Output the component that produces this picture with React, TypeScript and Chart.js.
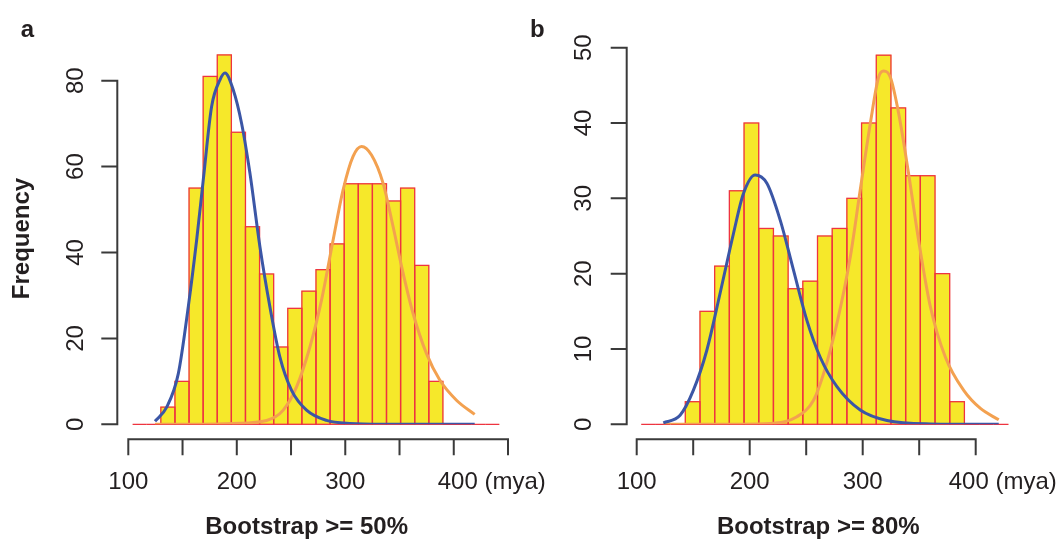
import React, { useEffect, useRef } from "react";
import { Chart, registerables } from "chart.js";
Chart.register(...registerables);

// ---------- data ----------
const binWidth = 13; // mya per histogram bin
const binStartA = 104;
const countsA = [0, 0, 4, 10, 55, 81, 86, 68, 46, 35, 18, 27, 31, 36, 42, 56, 56, 56, 52, 55, 37, 10, 0, 0, 0, 0];
const binStartB = 104;
const countsB = [0, 0, 0, 3, 15, 21, 31, 40, 26, 25, 18, 19, 25, 26, 30, 40, 49, 42, 33, 33, 20, 3, 0, 0, 0];

// fitted curves: [mya, frequency]
const blueCurveA: [number, number][] = [
  [124.6, 0.7], [135.4, 4.0], [146.1, 11.8], [155.3, 27.4], [163, 42.9], [169.1, 56.9], [176.8, 74],
  [184.5, 80.2], [189.1, 81.8], [196.7, 77.9], [204.4, 70.1], [212.1, 58.5], [221.3, 41.4], [230.5, 27.4],
  [239.7, 15.7], [250.5, 7.9], [264.3, 3.3], [282.7, 0.9], [304.2, 0.2], [340, 0.02], [380, 0], [419.3, 0],
];
const orangeCurveA: [number, number][] = [
  [124.6, 0], [170, 0.02], [196.7, 0.2], [227.5, 0.9], [242.8, 3.3], [255.1, 8.7], [267.4, 18], [278.1, 28.9],
  [288.8, 42.9], [298, 54.6], [307.2, 62.4], [315, 64.7], [324.2, 62.7], [334.9, 56.1], [344.1, 46],
  [353.3, 35.2], [362.5, 25.8], [374.8, 16.5], [387.1, 10.3], [402.5, 5.6], [419.3, 2.3],
];
const blueCurveB: [number, number][] = [
  [123.6, 0.2], [138.4, 1.2], [150.1, 4.5], [162, 9.8], [173.8, 17.4], [185.6, 25.3], [194.4, 30.6],
  [204.8, 33.1], [215.2, 32], [227, 27.1], [238.7, 20.5], [250.6, 13.8], [262.4, 8.9], [277.2, 5],
  [297.8, 1.9], [321.5, 0.5], [360, 0.05], [420.4, 0],
];
const orangeCurveB: [number, number][] = [
  [123.6, 0], [190, 0.02], [218.1, 0.1], [241.8, 1], [256.5, 3.2], [265.3, 6.7], [277.2, 13.4], [289, 22.2],
  [297.8, 31.1], [306.7, 39.9], [314.1, 46.1], [318.5, 46.9], [324.4, 46.1], [331.8, 41.3], [340.6, 33.3],
  [349.5, 24.4], [359.9, 15.6], [373.2, 8.9], [389.4, 4.5], [404.2, 2.1], [420.4, 0.6],
];

const xTicksA = [100, 150, 200, 250, 300, 350, 400, 450];
const xTicksB = [100, 150, 200, 250, 300, 350, 400];
const xLabelValues = [100, 200, 300];
const xLastLabelValue = 400;
const xLastLabel = "400 (mya)";
const yTicksA = [0, 20, 40, 60, 80];
const yTicksB = [0, 10, 20, 30, 40, 50];
const titleA = "Bootstrap >= 50%";
const titleB = "Bootstrap >= 80%";
const yTitle = "Frequency";

// ---------- styles ----------
const FONT = '"Liberation Sans", Arial, Helvetica, sans-serif';
const TEXT = "#231f20";
const AXIS = "#3a3a3a";
const YELLOW = "#f6e82a";
const RED = "#ee3440";
const BLUE = "#3b56a6";
const ORANGE = "#f3a150";
const TICK = 15;

type Panel = {
  counts: number[];
  binStart: number;
  blue: [number, number][];
  orange: [number, number][];
  xTicks: number[];
  yTicks: number[];
  xMin: number; xMax: number; yMax: number;
  padding: { left: number; right: number; top: number; bottom: number };
  yAxisGap: number;
  yLabelOffset: number;
  lastLabelShift: number;
  title: string;
  titleAt: number;
  letter: string;
  letterX: number;
  showYTitle: boolean;
};

const panelA: Panel = {
  counts: countsA, binStart: binStartA, blue: blueCurveA, orange: orangeCurveA,
  xTicks: xTicksA, yTicks: yTicksA, xMin: 100, xMax: 450, yMax: 90,
  padding: { left: 128.3, right: 553, top: 37.75, bottom: 114.7 },
  yAxisGap: 11, yLabelOffset: 34, lastLabelShift: -16,
  title: titleA, titleAt: 264.4, letter: "a", letterX: 20.7, showYTitle: true,
};
const panelB: Panel = {
  counts: countsB, binStart: binStartB, blue: blueCurveB, orange: orangeCurveB,
  xTicks: xTicksB, yTicks: yTicksB, xMin: 100, xMax: 440, yMax: 55,
  padding: { left: 636.7, right: 40.1, top: 10, bottom: 114.7 },
  yAxisGap: 10, yLabelOffset: 36, lastLabelShift: -27,
  title: titleB, titleAt: 260.7, letter: "b", letterX: 530, showYTitle: false,
};

const outlinePlugin = {
  id: "barOutline",
  afterDatasetDraw(chart: any, args: any) {
    const meta = args.meta;
    if (meta.type !== "bar") return;
    const ctx = chart.ctx;
    ctx.save();
    ctx.strokeStyle = RED;
    ctx.lineWidth = 1.3;
    meta.data.forEach((el: any) => {
      const { x, y, base, width } = el.getProps(["x", "y", "base", "width"], true);
      ctx.strokeRect(x - width / 2, Math.min(y, base), width, Math.abs(base - y));
    });
    ctx.restore();
  },
};

function axesPlugin(p: Panel) {
  return {
    id: "rAxes",
    afterDraw(chart: any) {
      const ctx = chart.ctx;
      const xs = chart.scales.x;
      const ys = chart.scales.y;
      const y0 = ys.getPixelForValue(0);
      const axX = xs.getPixelForValue(p.xTicks[0]) - p.yAxisGap;
      const axY = y0 + 15;
      ctx.save();
      ctx.strokeStyle = AXIS;
      ctx.lineWidth = 2;
      ctx.lineCap = "square";
      ctx.beginPath();
      ctx.moveTo(axX, ys.getPixelForValue(p.yTicks[0]));
      ctx.lineTo(axX, ys.getPixelForValue(p.yTicks[p.yTicks.length - 1]));
      p.yTicks.forEach((v) => {
        const py = ys.getPixelForValue(v);
        ctx.moveTo(axX, py);
        ctx.lineTo(axX - TICK, py);
      });
      ctx.moveTo(xs.getPixelForValue(p.xTicks[0]), axY);
      ctx.lineTo(xs.getPixelForValue(p.xTicks[p.xTicks.length - 1]), axY);
      p.xTicks.forEach((v) => {
        const px = xs.getPixelForValue(v);
        ctx.moveTo(px, axY);
        ctx.lineTo(px, axY + TICK);
      });
      ctx.stroke();

      ctx.fillStyle = TEXT;
      ctx.font = `24px ${FONT}`;
      ctx.textBaseline = "alphabetic";
      // y tick labels (rotated)
      p.yTicks.forEach((v) => {
        ctx.save();
        ctx.translate(axX - p.yLabelOffset, ys.getPixelForValue(v));
        ctx.rotate(-Math.PI / 2);
        ctx.textAlign = "center";
        ctx.fillText(String(v), 0, 0);
        ctx.restore();
      });
      // x tick labels
      ctx.textAlign = "center";
      xLabelValues.forEach((v) => {
        ctx.fillText(String(v), xs.getPixelForValue(v), axY + 50);
      });
      ctx.textAlign = "left";
      ctx.fillText(xLastLabel, xs.getPixelForValue(xLastLabelValue) + p.lastLabelShift, axY + 50);

      // titles
      ctx.font = `bold 24px ${FONT}`;
      ctx.textAlign = "center";
      ctx.fillText(p.title, xs.getPixelForValue(p.titleAt), 534);
      ctx.textAlign = "left";
      ctx.fillText(p.letter, p.letterX, 36.7);
      if (p.showYTitle) {
        ctx.save();
        ctx.translate(29, (ys.getPixelForValue(0) + ys.getPixelForValue(80)) / 2 - 14);
        ctx.rotate(-Math.PI / 2);
        ctx.textAlign = "center";
        ctx.fillText(yTitle, 0, 0);
        ctx.restore();
      }
      ctx.restore();
    },
  };
}

function makeConfig(p: Panel): any {
  const bars = p.counts.map((c, i) => ({ x: p.binStart + binWidth * (i + 0.5), y: c }));
  return {
    type: "bar",
    data: {
      datasets: [
        {
          type: "line",
          data: p.blue.map(([x, y]) => ({ x, y })),
          borderColor: BLUE,
          borderWidth: 3,
          pointRadius: 0,
          cubicInterpolationMode: "monotone",
          fill: false,
          order: 0,
        },
        {
          type: "line",
          data: p.orange.map(([x, y]) => ({ x, y })),
          borderColor: ORANGE,
          borderWidth: 3,
          pointRadius: 0,
          cubicInterpolationMode: "monotone",
          fill: false,
          order: 1,
        },
        {
          type: "bar",
          data: bars,
          backgroundColor: YELLOW,
          borderWidth: 0,
          barPercentage: 1,
          categoryPercentage: 1,
          order: 2,
        },
      ],
    },
    options: {
      animation: false,
      responsive: false,
      devicePixelRatio: 1,
      events: [],
      layout: { padding: p.padding },
      plugins: { legend: { display: false }, tooltip: { enabled: false }, title: { display: false } },
      scales: {
        x: { type: "linear", offset: false, min: p.xMin, max: p.xMax, display: false, ticks: { stepSize: 50 } },
        y: { type: "linear", min: 0, max: p.yMax, display: false },
      },
    },
    plugins: [outlinePlugin, axesPlugin(p)],
  };
}

function Panel({ p }: { p: Panel }) {
  const ref = useRef<HTMLCanvasElement | null>(null);
  useEffect(() => {
    if (!ref.current) return;
    const chart = new Chart(ref.current, makeConfig(p));
    return () => chart.destroy();
  }, [p]);
  return (
    <canvas
      ref={ref}
      width={1061}
      height={539}
      style={{ position: "absolute", left: 0, top: 0, width: 1061, height: 539 }}
    />
  );
}

export default function App() {
  return (
    <div style={{ position: "absolute", left: 0, top: 0, width: 1061, height: 539, background: "#fff", overflow: "hidden" }}>
      <Panel p={panelA} />
      <Panel p={panelB} />
    </div>
  );
}
